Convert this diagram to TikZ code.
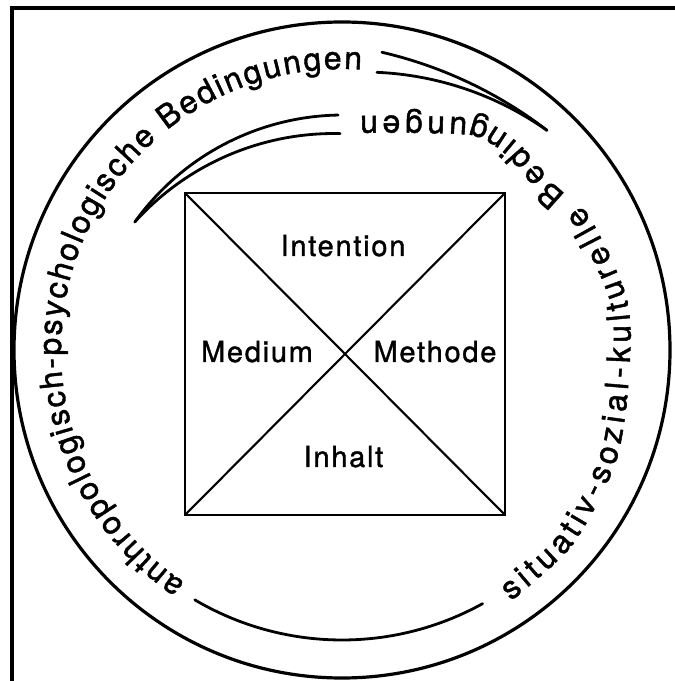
\documentclass[tikz,border=0pt]{standalone}
\usepackage{fontspec}
\setmainfont{TeX Gyre Heros}
\newfontfamily\labelfont[LetterSpace=6,FakeBold=1.2]{TeX Gyre Heros}
\newfontfamily\arcfont[FakeBold=1.4]{TeX Gyre Heros}
\usetikzlibrary{decorations.text,calc}
\begin{document}
\begin{tikzpicture}[x=1pt,y=1pt,
  frameline/.style={line width=3.5pt},
  ringline/.style={line width=3.2pt},
  sqline/.style={line width=2.6pt},
  diagline/.style={line width=2.1pt},
  swoosh/.style={line width=2.8pt, line cap=round},
  lbl/.style={font=\labelfont\fontsize{29}{29}\selectfont, inner sep=0pt, anchor=base}]
\useasboundingbox (0,0) rectangle (675,681);
\coordinate (C) at (342,331);
% frame (only left and top edges visible)
\draw[frameline] (12,-10) -- (12,673) -- (690,673);
% big circle
\draw[ringline] (C) circle[radius=328];
% square with diagonals
\node[draw, sqline, minimum width=320pt, minimum height=322pt, inner sep=0pt, outer sep=0pt, anchor=south west] (sq) at (185,166) {};
\draw[diagline] (sq.north west) -- (sq.south east);
\draw[diagline] (sq.south west) -- (sq.north east);
% labels
\node[lbl] (int) at (343,425) {Intention};
\node[lbl] (med) at (257,319) {Medium};
\node[lbl] (met) at (435,319) {Methode};
\node[lbl] (inh) at (343.5,214) {Inhalt};
% curved texts
\path[decorate, decoration={text along path, text align={fit to path},
  text={|\arcfont\fontsize{32}{32}\selectfont|anthropologisch-psychologische Bedingungen}}]
  ($(C)+(236:281)$) arc[start angle=236, end angle=86, radius=281];
\path[decorate, decoration={text along path, text align={fit to path},
  text={|\arcfont\fontsize{32}{32}\selectfont|situativ-sozial-kulturelle Bedingungen}}]
  plot[smooth] coordinates {(511,80) (573,137) (616,220) (629,306) (627,381) (590,463) (554,497) (517,539) (480,561) (420,565) (360,565)};
% bottom arc
\draw[swoosh] ($(C)+(239.5:290)$) arc[start angle=239.5, end angle=299, radius=290];
% top-left swoosh
\coordinate (TLa) at (343,310);
\coordinate (TLb) at (334,279);
\draw[swoosh] ($(TLa)+(91.1:256)$) arc[start angle=91.1, end angle=144.4, radius=256];
\draw[swoosh] ($(TLb)+(88.7:268.5)$) arc[start angle=88.7, end angle=137.9, radius=268.5];
% top-right swoosh
\coordinate (TRa) at (284,208);
\coordinate (TRb) at (363,290);
\draw[swoosh] ($(TRa)+(76.9:432)$) arc[start angle=76.9, end angle=52.5, radius=432];
\draw[swoosh] ($(TRb)+(87.5:319)$) arc[start angle=87.5, end angle=54.8, radius=319];
\end{tikzpicture}
\end{document}
